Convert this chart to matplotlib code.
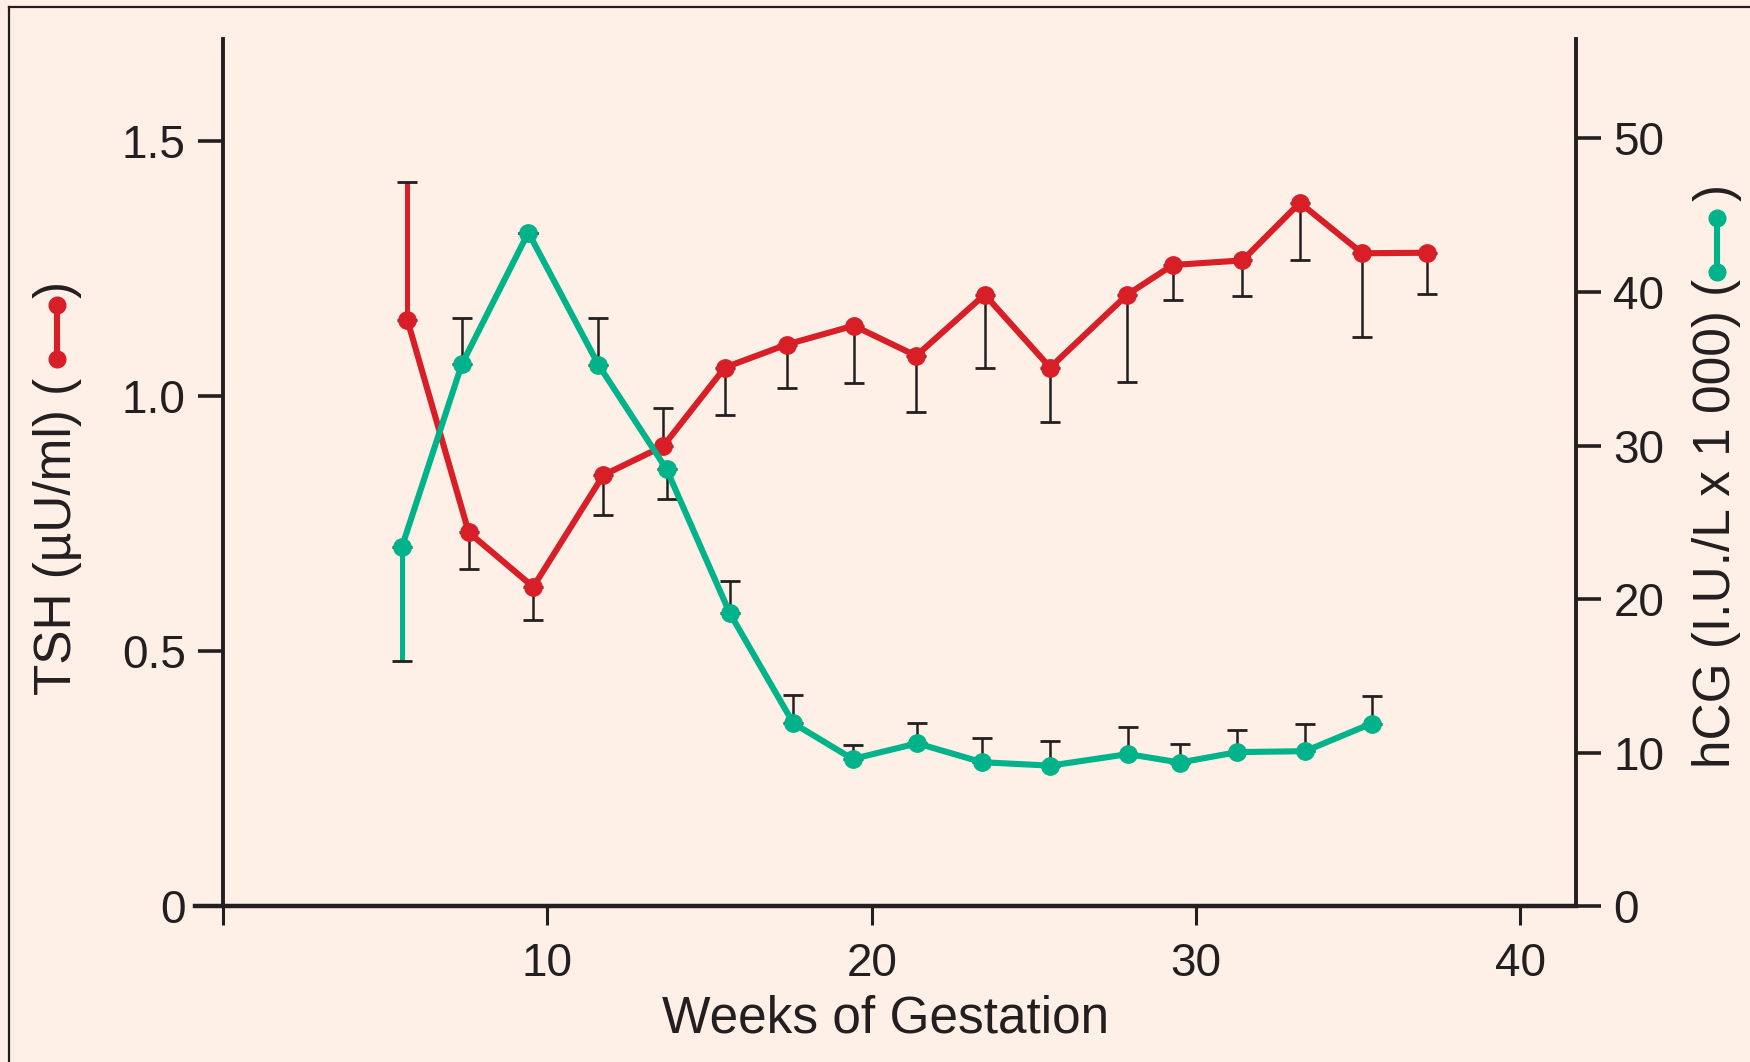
import matplotlib
matplotlib.use('Agg')
import matplotlib.pyplot as plt
import numpy as np
from matplotlib.lines import Line2D

plt.rcParams['font.family'] = ['Liberation Sans', 'DejaVu Sans']

# TSH (left axis)
tshWeeks = [5.68, 7.57, 9.56, 11.72, 13.57, 15.47, 17.37, 19.44, 21.37, 23.48, 25.5, 27.88, 29.28, 31.43, 33.2, 35.12, 37.11]
tsh = [1.149, 0.733, 0.626, 0.845, 0.902, 1.056, 1.101, 1.138, 1.079, 1.199, 1.056, 1.199, 1.257, 1.266, 1.379, 1.280, 1.281]
tshErrEnd = [1.419, 0.661, 0.561, 0.766, 0.977, 0.963, 1.015, 1.026, 0.969, 1.055, 0.949, 1.028, 1.189, 1.196, 1.266, 1.116, 1.200]

# hCG (right axis, I.U./L x 1000)
hcgWeeks = [5.51, 7.36, 9.41, 11.57, 13.67, 15.62, 17.58, 19.41, 21.40, 23.40, 25.5, 27.9, 29.5, 31.27, 33.36, 35.41]
hcg = [23.4, 35.3, 43.87, 35.26, 28.46, 19.09, 11.92, 9.59, 10.61, 9.38, 9.16, 9.91, 9.36, 10.04, 10.1, 11.9]
hcgErrEnd = [16.0, 38.3, np.nan, 38.3, 26.5, 21.15, 13.74, 10.47, 11.92, 10.95, 10.78, 11.7, 10.6, 11.5, 11.9, 13.7]

xTicks = [0, 10, 20, 30, 40]
xTickLabels = ['', '10', '20', '30', '40']
tshTicks = [0, 0.5, 1.0, 1.5]
tshTickLabels = ['0', '0.5', '1.0', '1.5']
hcgTicks = [0, 10, 20, 30, 40, 50]

bg = '#FEF0E6'
red = '#D81E27'
green = '#00B38A'
ink = '#231F20'


def splitErr(y, end):
    y = np.array(y); end = np.array(end)
    lo = np.where(end < y, y - end, 0)
    hi = np.where(end > y, end - y, 0)
    lo = np.nan_to_num(lo); hi = np.nan_to_num(hi)
    return np.array([lo, hi])


fig = plt.figure(figsize=(17.5, 10.62), dpi=100, facecolor=bg)
ax = fig.add_axes([0.1116, 0.1466, 0.7889, 0.8167])
ax.set_facecolor('none')
ax2 = ax.twinx()
ax2.set_facecolor('none')

ax.set_xlim(-0.86, 41.71)
ax.set_ylim(0, 1.70)
ax2.set_ylim(0, 56.47)

# error bars
tshErr = splitErr(tsh, tshErrEnd)
eb = ax.errorbar(tshWeeks, tsh, yerr=tshErr, fmt='none', ecolor=ink, elinewidth=1.8,
                 capsize=7.5, capthick=2.0, zorder=2)
stemColors = [ink] * len(tsh)
stemColors[0] = red
eb[2][0].set_color(stemColors)
eb[2][0].set_linewidth([3.6] + [1.8] * (len(tsh) - 1))

hcgErr = splitErr(hcg, hcgErrEnd)
eb2 = ax2.errorbar(hcgWeeks, hcg, yerr=hcgErr, fmt='none', ecolor=ink, elinewidth=1.8,
                   capsize=7.5, capthick=2.0, zorder=2)
stemColors = [ink] * len(hcg)
stemColors[0] = green
eb2[2][0].set_color(stemColors)
eb2[2][0].set_linewidth([3.6] + [1.8] * (len(hcg) - 1))

ax.plot(tshWeeks, tsh, '-o', color=red, lw=4.4, ms=12.5, zorder=3)
ax2.plot(hcgWeeks, hcg, '-o', color=green, lw=4.4, ms=12.5, zorder=3)

# spines
for s in ['top', 'right']:
    ax.spines[s].set_visible(False)
ax.spines['left'].set_position(('data', 0))
ax.spines['left'].set_linewidth(2.8)
ax.spines['bottom'].set_linewidth(3.2)
ax.spines['left'].set_color(ink)
ax.spines['bottom'].set_color(ink)
for s in ['top', 'left', 'bottom']:
    ax2.spines[s].set_visible(False)
ax2.spines['right'].set_linewidth(2.8)
ax2.spines['right'].set_color(ink)

ax.set_xticks(xTicks)
ax.set_xticklabels(xTickLabels)
ax.set_yticks(tshTicks)
ax.set_yticklabels(tshTickLabels)
ax2.set_yticks(hcgTicks)
ax.tick_params(axis='x', direction='out', length=14, width=2.2, pad=12, labelsize=33, colors=ink)
ax.tick_params(axis='y', direction='out', length=18, width=2.6, pad=9, labelsize=33, colors=ink)
ax2.tick_params(axis='y', direction='out', length=18, width=2.6, pad=9, labelsize=33, colors=ink)

ax.set_xlabel('Weeks of Gestation', fontsize=37, color=ink, labelpad=6)

# axis labels with series glyphs
fig.text(0.0326, 0.3453, 'TSH (µU/ml) (', rotation=90, ha='center', va='bottom', fontsize=37, color=ink)
fig.text(0.0326, 0.7354, ')', rotation=90, ha='center', va='top', fontsize=37, color=ink)
fig.add_artist(Line2D([0.0326, 0.0326], [0.6616, 0.7131], color=red, lw=4.4, marker='o', ms=12,
                      transform=fig.transFigure))

fig.text(0.9811, 0.2768, 'hCG (I.U./L x 1 000) (', rotation=90, ha='center', va='bottom', fontsize=37, color=ink)
fig.text(0.9811, 0.8267, ')', rotation=90, ha='center', va='top', fontsize=37, color=ink)
fig.add_artist(Line2D([0.9811, 0.9811], [0.7435, 0.7943], color=green, lw=4.4, marker='o', ms=12,
                      transform=fig.transFigure))

# frame around the panel (top and left edges)
fig.add_artist(Line2D([0.0051, 1.0], [0.9934, 0.9934], color=ink, lw=1.6, transform=fig.transFigure))
fig.add_artist(Line2D([0.0051, 0.0051], [0.0, 0.9934], color=ink, lw=1.6, transform=fig.transFigure))

fig.savefig('out.png', dpi=100, facecolor=bg)
